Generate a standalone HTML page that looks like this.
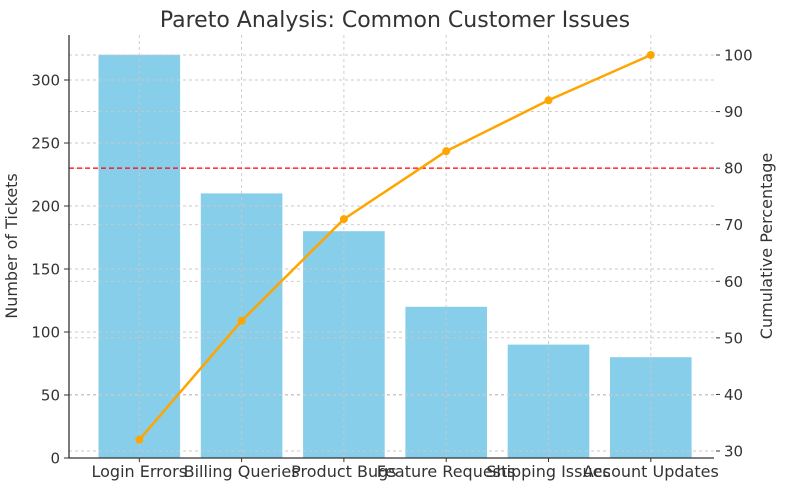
<!DOCTYPE html>
<html><head><meta charset="utf-8"><style>
html,body{margin:0;padding:0;background:#fff;}
svg text{font-family:"DejaVu Sans","Liberation Sans",sans-serif;fill:#333;}
</style></head><body>
<svg id="chart" width="790" height="490" xmlns="http://www.w3.org/2000/svg">
<text x="395" y="27" font-size="22" text-anchor="middle">Pareto Analysis: Common Customer Issues</text>
<g id="bars"></g><g id="grid"></g><g id="line"></g><g id="axes"></g>
<text transform="translate(17,246) rotate(-90)" font-size="16" text-anchor="middle">Number of Tickets</text>
<text transform="translate(772,246) rotate(-90)" font-size="16" text-anchor="middle">Cumulative Percentage</text>
</svg>
<script>
const categories=["Login Errors","Billing Queries","Product Bugs","Feature Requests","Shipping Issues","Account Updates"];
const tickets=[320,210,180,120,90,80];
const cumulative=[32,53,71,83,92,100];
const leftTicks=[0,50,100,150,200,250,300];
const rightTicks=[30,40,50,60,70,80,90,100];
const threshold=80;
const NS="http://www.w3.org/2000/svg";
const L=69,R=714,B=458;
const x=i=>139.3+i*102.3;
const y=v=>B-v*1.26;
const y2=v=>451-(v-30)*5.657;
function mk(p,t,a){const e=document.createElementNS(NS,t);for(const k in a)e.setAttribute(k,a[k]);document.getElementById(p).appendChild(e);return e;}
leftTicks.forEach(v=>{
 const g=mk('grid','line',{x1:L,x2:R,y1:y(v),y2:y(v),stroke:'#c8c8c8','stroke-dasharray':'3,3','stroke-width':0.9});
 
 
 mk('axes','line',{x1:L-5,x2:L,y1:y(v),y2:y(v),stroke:'#333'});
 const t=mk('axes','text',{x:L-9,y:y(v)+5.5,'font-size':15,'text-anchor':'end'});t.textContent=v;
 
 
});
rightTicks.forEach(v=>{
 const g=mk('grid','line',{x1:L,x2:R,y1:y2(v),y2:y2(v),stroke:'#c8c8c8','stroke-dasharray':'3,3','stroke-width':0.9});
 
 
 mk('axes','line',{x1:R+2,x2:R+6,y1:y2(v),y2:y2(v),stroke:'#333'});
 const t=mk('axes','text',{x:R+10,y:y2(v)+5.5,'font-size':15});t.textContent=v;
 
 
});
categories.forEach((c,i)=>{
 const b=mk('bars','rect',{x:x(i)-40.8,y:y(tickets[i]),width:81.6,height:B-y(tickets[i]),fill:'#87ceeb'});
 
 
 const g=mk('grid','line',{x1:x(i),x2:x(i),y1:35,y2:B,stroke:'#c8c8c8','stroke-dasharray':'3,3','stroke-width':0.9});
 
 
 mk('axes','line',{x1:x(i),x2:x(i),y1:B,y2:B+4,stroke:'#333'});
 const t=mk('axes','text',{x:x(i),y:B+19,'font-size':16,'text-anchor':'middle'});t.textContent=c;
 
 
});
const th=mk('line','line',{x1:L,x2:R,y1:y2(threshold),y2:y2(threshold),stroke:'#ff0000','stroke-dasharray':'5,3','stroke-width':1.3});


const pl=mk('line','polyline',{points:cumulative.map((v,i)=>x(i)+','+y2(v)).join(' '),fill:'none',stroke:'#ffa500','stroke-width':2.5});


cumulative.forEach((v,i)=>{
 const c=mk('line','circle',{cx:x(i),cy:y2(v),r:4,fill:'#ffa500'});
 
 
});
const sp=mk('axes','line',{x1:L,x2:L,y1:35,y2:B,stroke:'#333','stroke-width':1.3});


const bs=mk('axes','line',{x1:L,x2:R,y1:B,y2:B,stroke:'#333','stroke-width':1.3});


</script>
</body></html>
